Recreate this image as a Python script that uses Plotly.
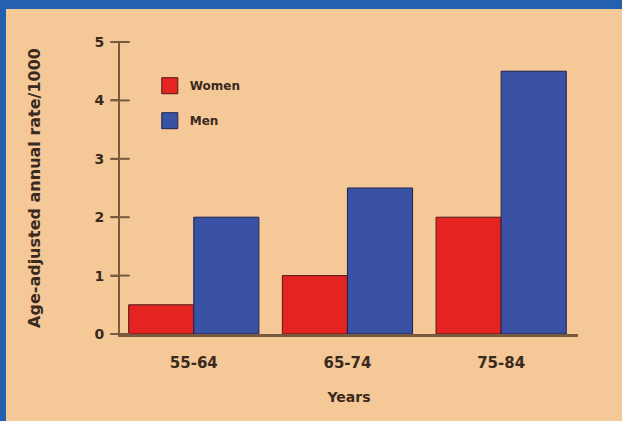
import plotly.graph_objects as go

categories = ["55-64", "65-74", "75-84"]
women = [0.5, 1.0, 2.0]
men = [2.0, 2.5, 4.5]
y_ticks = [0, 1, 2, 3, 4, 5]

PEACH = "#f5c898"
BLUE_BG = "#2360b0"
TXT = "#3a2a1e"
AXIS = "#7a5a3c"
RED = "#e52421"
BLUE = "#3a52a3"
FONT = "DejaVu Sans"

fig = go.Figure()
fig.add_trace(go.Bar(name="Women", x=categories, y=women, legendgroup="w", showlegend=False,
                     marker=dict(color=RED, line=dict(color="#4a1a1a", width=1))))
fig.add_trace(go.Bar(name="Men", x=categories, y=men, legendgroup="m", showlegend=False,
                     marker=dict(color=BLUE, line=dict(color="#1e2050", width=1))))
# legend entries with larger square swatches
fig.add_trace(go.Scatter(name="Women", x=[None], y=[None], mode="markers", legendgroup="w",
                         marker=dict(symbol="square", size=16, color=RED,
                                     line=dict(color="#4a1a1a", width=1))))
fig.add_trace(go.Scatter(name="Men", x=[None], y=[None], mode="markers", legendgroup="m",
                         marker=dict(symbol="square", size=16, color=BLUE,
                                     line=dict(color="#1e2050", width=1))))
# tick crosses straddling the y-axis line
fig.add_trace(go.Scatter(x=[0] * len(y_ticks), y=y_ticks, xaxis="x2", mode="markers",
                         marker=dict(symbol="line-ew", size=14,
                                     line=dict(color=AXIS, width=2)),
                         cliponaxis=False, showlegend=False, hoverinfo="skip"))

fig.update_layout(
    width=622, height=421,
    margin=dict(l=120, r=44, t=42, b=87),
    paper_bgcolor=BLUE_BG,
    plot_bgcolor=PEACH,
    barmode="group", bargap=0.153, bargroupgap=0,
    font=dict(family=FONT, color=TXT, size=14, weight="bold"),
    showlegend=True,
    legend=dict(x=0.065, y=0.9, xanchor="left", yanchor="top", itemsizing="trace",
                bgcolor="rgba(0,0,0,0)", font=dict(size=12, weight="bold", color=TXT),
                tracegroupgap=16, traceorder="grouped"),
    xaxis=dict(type="category", range=[-0.48, 2.5], showline=True, linecolor=AXIS, linewidth=3,
               ticks="", showgrid=False, zeroline=False, ticklabelstandoff=13,
               tickfont=dict(size=15, weight="bold"),
               title=dict(text="Years", standoff=22, font=dict(size=14, weight="bold"))),
    xaxis2=dict(overlaying="x", range=[0, 1], visible=False, anchor="y"),
    yaxis=dict(range=[0, 5], tickvals=y_ticks, showline=True, linecolor=AXIS, linewidth=2,
               ticks="outside", ticklen=7, tickwidth=2, tickcolor=AXIS, showgrid=False,
               zeroline=False, ticklabelstandoff=4,
               title=dict(text="Age-adjusted annual rate/1000", standoff=50,
                          font=dict(size=16, weight="bold"))),
    shapes=[dict(type="rect", xref="paper", yref="paper", layer="below",
                 x0=(6 - 120) / 458, x1=1 + 44 / 458, y0=-87 / 292, y1=1 + 33 / 292,
                 fillcolor=PEACH, line=dict(width=0))],
)

fig.write_html("out.html")
